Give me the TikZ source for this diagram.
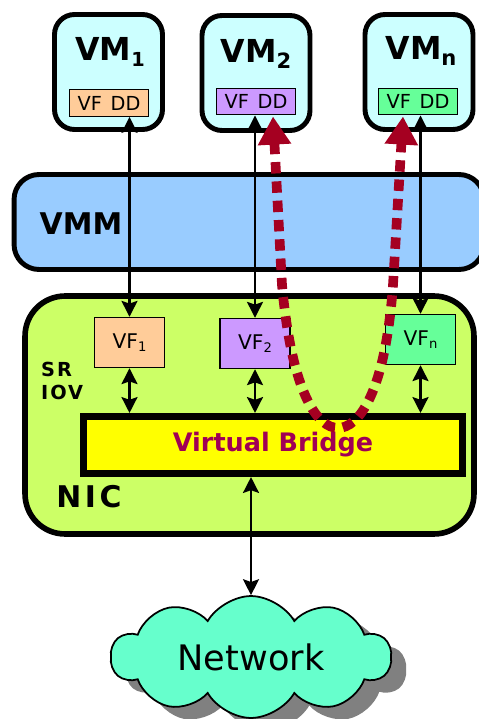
\documentclass[tikz,border=0pt]{standalone}
\usepackage{fontspec}
\setmainfont{DejaVu Sans}
\usetikzlibrary{shapes.symbols, arrows.meta, positioning, calc, shadows}
\definecolor{vmcolor}{RGB}{204,255,255}
\definecolor{vmmcolor}{RGB}{153,204,255}
\definecolor{niccolor}{RGB}{204,255,102}
\definecolor{vfonecolor}{RGB}{255,204,153}
\definecolor{vftwocolor}{RGB}{204,153,255}
\definecolor{vfncolor}{RGB}{102,255,153}
\definecolor{bridgecolor}{RGB}{255,255,0}
\definecolor{pathcolor}{RGB}{165,0,33}
\definecolor{bridgetext}{RGB}{160,0,85}
\definecolor{cloudcolor}{RGB}{102,255,204}

\begin{document}
\begin{tikzpicture}[
    x=0.02cm, y=-0.02cm,
    vmbox/.style={draw, line width=2.8pt, rounded corners=0.4cm, fill=vmcolor, minimum width=2.16cm, minimum height=2.3cm, inner sep=0pt},
    vmlabel/.style={font=\bfseries\fontsize{18}{20}\selectfont, inner sep=0pt},
    ddbox/.style={draw, line width=0.8pt, minimum width=1.58cm, minimum height=0.53cm, inner sep=0pt, font=\fontsize{11}{12}\selectfont},
    vfbox/.style={draw, line width=0.8pt, minimum width=1.4cm, minimum height=1.0cm, inner sep=0pt, font=\fontsize{11.5}{13}\selectfont},
    link/.style={line width=1.7pt, {Stealth[length=9pt,width=9pt,inset=1.5pt]}-{Stealth[length=9pt,width=9pt,inset=1.5pt]}},
    direct/.style={pathcolor, line width=5.5pt, dash pattern=on 6.5pt off 4.5pt, {Triangle[width=18pt,length=16pt]}-{Triangle[width=18pt,length=16pt]}}
]
    \useasboundingbox (0,0) rectangle (478,719);

    \node[draw, line width=2.8pt, rounded corners=0.5cm, fill=vmmcolor, minimum width=9.4cm, minimum height=1.9cm] (vmm) at (249,222) {};
    \node[font=\bfseries\fontsize{17}{20}\selectfont] (vmmlabel) at (81,224) {VMM};

    \node[draw, line width=3.2pt, rounded corners=0.8cm, fill=niccolor, minimum width=8.98cm, minimum height=4.76cm] (nic) at (249.5,415) {};
    \node[font=\bfseries\fontsize{17}{20}\selectfont\addfontfeature{LetterSpace=12}] (niclabel) at (89,497) {NIC};
    \node[font=\bfseries\fontsize{11}{13}\selectfont\addfontfeature{LetterSpace=10}, align=left, anchor=west] (sriov) at (35,381) {SR\\IOV};

    \node[vmbox] (vm1) at (108.5,72) {};
    \node[vmbox] (vm2) at (256,73) {};
    \node[vmbox] (vmn) at (419,72) {};
    \node[vmlabel] (vm1label) at (110,52) {VM\raisebox{-3.5pt}{\fontsize{11}{12}\selectfont 1}};
    \node[vmlabel] (vm2label) at (256,54) {VM\raisebox{-3.5pt}{\fontsize{12}{12}\selectfont 2}};
    \node[vmlabel] (vmnlabel) at (421,51) {VM\raisebox{-3.5pt}{\fontsize{12}{12}\selectfont n}};

    \node[ddbox, fill=vfonecolor] (vfdd1) at (109,103) {VF\hspace{5pt}DD};
    \node[ddbox, fill=vftwocolor] (vfdd2) at (256,101.5) {VF\hspace{5pt}DD};
    \node[ddbox, fill=vfncolor] (vfddn) at (418,101.5) {VF\hspace{5pt}DD};

    \node[vfbox, fill=vfonecolor] (vf1) at (129.5,342.5) {VF\raisebox{-2pt}{\fontsize{7.5}{8}\selectfont 1}};
    \node[vfbox, fill=vftwocolor] (vf2) at (255,343.5) {VF\raisebox{-2pt}{\fontsize{7.5}{8}\selectfont 2}};
    \node[vfbox, fill=vfncolor] (vfn) at (420.5,339.5) {VF\raisebox{-2pt}{\fontsize{7.5}{8}\selectfont n}};

    \node[draw, line width=4pt, fill=bridgecolor, minimum width=7.58cm, minimum height=1.14cm, text=bridgetext, font=\bfseries\fontsize{14.5}{16}\selectfont] (bridge) at (273,445) {Virtual Bridge};

    \node[cloud, cloud puffs=10, cloud puff arc=120, aspect=2.6, draw, line width=1pt, fill=cloudcolor, minimum width=5.6cm, minimum height=2.1cm, drop shadow={shadow xshift=0.3cm, shadow yshift=-0.25cm, fill=gray, opacity=1}, font=\fontsize{20}{24}\selectfont] (network) at (251,657) {Network};

    \draw[link] (vf1.north |- vfdd1.south) -- (vf1.north);
    \draw[link] (vf2.north |- vfdd2.south) -- (vf2.north);
    \draw[link] (vfn.north |- vfddn.south) -- (vfn.north);
    \draw[link] (vf1.south) -- (vf1.south |- bridge.north);
    \draw[link] (vf2.south) -- (vf2.south |- bridge.north);
    \draw[link] (vfn.south) -- (vfn.south |- bridge.north);
    \draw[link] (bridge.south -| network.north) -- (network.north);

    \coordinate (leftend) at ($(vfdd2.south)+(17,1)$);
    \coordinate (rightend) at ($(vfddn.south)+(-15,1)$);
    \coordinate (turn) at (338,428);
    \draw[direct] (leftend) -- (282,285) .. controls (292,395) and (318,428) .. (turn) .. controls (358,428) and (385,395) .. (393,285) -- (rightend);
\end{tikzpicture}
\end{document}
